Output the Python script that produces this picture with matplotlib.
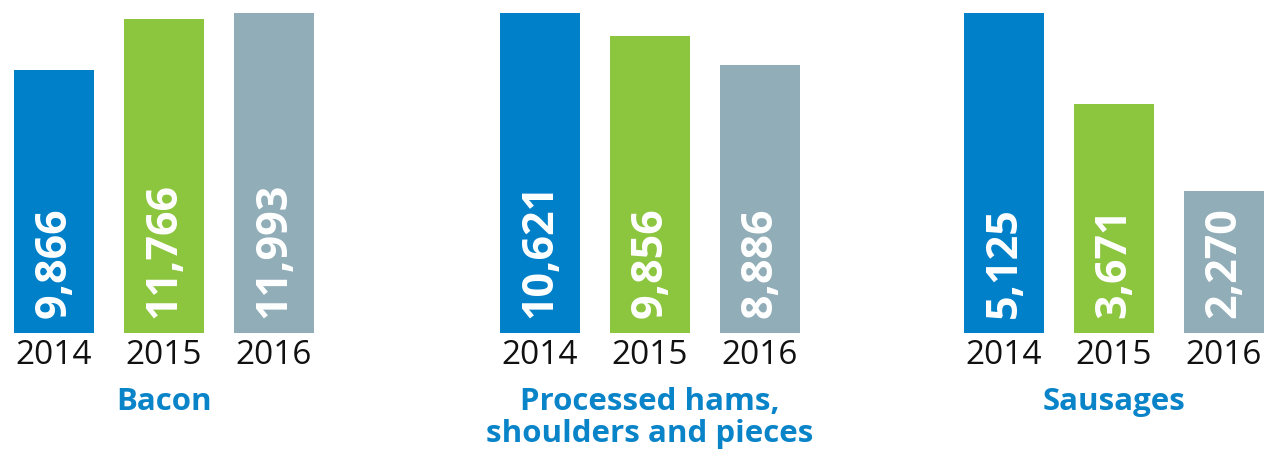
import matplotlib.pyplot as plt
from matplotlib.transforms import offset_copy

# Data
groups = ["Bacon", "Processed hams,\nshoulders and pieces", "Sausages"]
years = ["2014", "2015", "2016"]
bacon = [9866, 11766, 11993]
hams = [10621, 9856, 8886]
sausages = [5125, 3671, 2270]
values = [bacon, hams, sausages]

colors = ["#0080C9", "#8CC63F", "#91ADB8"]
title_color = "#0A84C8"

W, H = 1267, 454
fig = plt.figure(figsize=(W / 100, H / 100), dpi=100)
plt.rcParams["font.family"] = ["Open Sans", "DejaVu Sans"]

lefts = [14, 500, 964]
bar_w = 80 / 110
base_px = 333
top_px = 13

for left, vals, name in zip(lefts, values, groups):
    ax = fig.add_axes([left / W, (H - base_px) / H, 300 / W, (base_px - top_px) / H])
    x = range(len(vals))
    ax.bar(x, vals, width=bar_w, color=colors)
    ax.set_xlim(-bar_w / 2, 2 + bar_w / 2)
    ax.set_ylim(0, max(vals))
    ax.axis("off")

    # value labels inside the bars
    lab_tr = offset_copy(ax.transData, fig=fig, y=15, units="dots")
    for i, v in enumerate(vals):
        ax.text(i, 0, f"{v:,}", rotation=90, ha="center", va="bottom",
                color="white", fontsize=31, fontweight="bold", transform=lab_tr)

    year_tr = offset_copy(ax.transData, fig=fig, y=-23, units="dots")
    for i, yr in enumerate(years):
        ax.text(i, 0, yr, ha="center", va="center", fontsize=24,
                color="#111111", transform=year_tr)

    title_tr = offset_copy(ax.transData, fig=fig, y=-54, units="dots")
    ax.text(1, 0, name, ha="center", va="top", fontsize=22.5, fontweight="bold",
            color=title_color, linespacing=1.08, transform=title_tr)

fig.savefig("out.png", dpi=100)
